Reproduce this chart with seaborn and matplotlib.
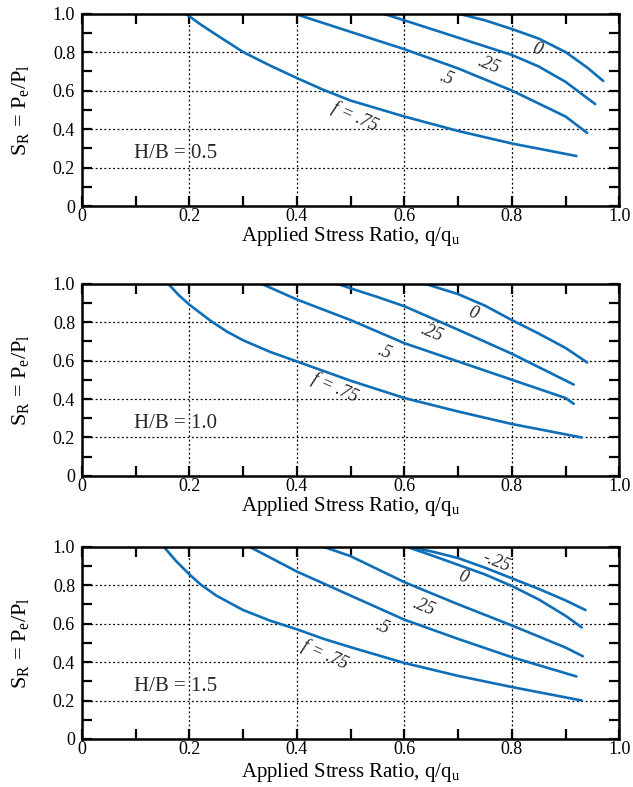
import matplotlib
matplotlib.use('Agg')
import pandas as pd
import seaborn as sns
import matplotlib.pyplot as plt
from matplotlib.ticker import FixedLocator, FixedFormatter, MultipleLocator

# valores
tick_values = [0, 0.2, 0.4, 0.6, 0.8, 1.0]
tick_labels = ['0', '0.2', '0.4', '0.6', '0.8', '1.0']
hb_labels = ['H/B = 0.5', 'H/B = 1.0', 'H/B = 1.5']

# H/B = 0.5
hb05_f075_q = [0.193, 0.22, 0.25, 0.3, 0.35, 0.4, 0.45, 0.5, 0.6, 0.7, 0.8, 0.92]
hb05_f075_s = [1.0, 0.945, 0.89, 0.80, 0.73, 0.665, 0.603, 0.548, 0.465, 0.39, 0.325, 0.26]
hb05_f05_q = [0.395, 0.5, 0.6, 0.7, 0.8, 0.9, 0.94]
hb05_f05_s = [1.0, 0.905, 0.815, 0.715, 0.60, 0.465, 0.38]
hb05_f025_q = [0.56, 0.6, 0.65, 0.7, 0.75, 0.8, 0.85, 0.9, 0.955]
hb05_f025_s = [1.0, 0.965, 0.92, 0.875, 0.83, 0.785, 0.725, 0.645, 0.53]
hb05_f0_q = [0.70, 0.75, 0.8, 0.85, 0.9, 0.94, 0.97]
hb05_f0_s = [1.0, 0.965, 0.92, 0.87, 0.80, 0.72, 0.65]

# H/B = 1.0
hb10_f075_q = [0.16, 0.18, 0.2, 0.24, 0.27, 0.3, 0.35, 0.4, 0.5, 0.6, 0.7, 0.8, 0.93]
hb10_f075_s = [1.0, 0.94, 0.89, 0.805, 0.75, 0.705, 0.645, 0.595, 0.495, 0.405, 0.335, 0.27, 0.20]
hb10_f05_q = [0.333, 0.4, 0.5, 0.6, 0.7, 0.8, 0.9, 0.915]
hb10_f05_s = [1.0, 0.917, 0.81, 0.69, 0.595, 0.5, 0.405, 0.375]
hb10_f025_q = [0.474, 0.5, 0.55, 0.6, 0.7, 0.8, 0.915]
hb10_f025_s = [1.0, 0.975, 0.93, 0.882, 0.76, 0.635, 0.475]
hb10_f0_q = [0.637, 0.7, 0.75, 0.8, 0.85, 0.9, 0.94]
hb10_f0_s = [1.0, 0.945, 0.885, 0.81, 0.74, 0.665, 0.59]

# H/B = 1.5
hb15_f075_q = [0.152, 0.175, 0.2, 0.22, 0.25, 0.3, 0.35, 0.4, 0.45, 0.5, 0.6, 0.7, 0.8, 0.93]
hb15_f075_s = [1.0, 0.925, 0.855, 0.805, 0.745, 0.67, 0.615, 0.57, 0.52, 0.477, 0.395, 0.328, 0.27, 0.20]
hb15_f05_q = [0.311, 0.4, 0.5, 0.6, 0.7, 0.8, 0.92]
hb15_f05_s = [1.0, 0.87, 0.745, 0.62, 0.52, 0.425, 0.325]
hb15_f025_q = [0.448, 0.5, 0.6, 0.7, 0.8, 0.9, 0.932]
hb15_f025_s = [1.0, 0.95, 0.815, 0.70, 0.59, 0.475, 0.43]
hb15_f0_q = [0.603, 0.65, 0.7, 0.75, 0.8, 0.85, 0.9, 0.93]
hb15_f0_s = [1.0, 0.955, 0.905, 0.855, 0.795, 0.725, 0.64, 0.58]
hb15_fm025_q = [0.603, 0.65, 0.7, 0.75, 0.8, 0.85, 0.9, 0.937]
hb15_fm025_s = [1.0, 0.975, 0.94, 0.89, 0.835, 0.78, 0.72, 0.67]

curvas = [
    [(hb05_f075_q, hb05_f075_s), (hb05_f05_q, hb05_f05_s), (hb05_f025_q, hb05_f025_s), (hb05_f0_q, hb05_f0_s)],
    [(hb10_f075_q, hb10_f075_s), (hb10_f05_q, hb10_f05_s), (hb10_f025_q, hb10_f025_s), (hb10_f0_q, hb10_f0_s)],
    [(hb15_f075_q, hb15_f075_s), (hb15_f05_q, hb15_f05_s), (hb15_f025_q, hb15_f025_s), (hb15_f0_q, hb15_f0_s),
     (hb15_fm025_q, hb15_fm025_s)],
]

# etiquetas de las curvas: texto, x, y, giro
etiquetas = [
    [('f = .75', 0.507, 0.465, -24), ('.5', 0.678, 0.665, -22), ('.25', 0.756, 0.735, -22), ('0', 0.846, 0.812, -20)],
    [('f = .75', 0.47, 0.46, -24), ('.5', 0.563, 0.645, -22), ('.25', 0.65, 0.745, -22), ('0', 0.727, 0.845, -20)],
    [('f = .75', 0.452, 0.44, -24), ('.5', 0.559, 0.58, -22), ('.25', 0.635, 0.687, -22), ('0', 0.71, 0.84, -20),
     ('-.25', 0.77, 0.918, -22)],
]

sns.set_theme(style='ticks')
plt.rcParams['font.family'] = ['Liberation Serif', 'DejaVu Serif']
plt.rcParams['mathtext.fontset'] = 'custom'
plt.rcParams['mathtext.rm'] = 'Liberation Serif'
plt.rcParams['mathtext.it'] = 'Liberation Serif:italic'

azul = '#0e6fb8'
fig = plt.figure(figsize=(6.33, 7.87), dpi=100)
fondos = [0.7382, 0.3952, 0.061]
xlab_y = [-0.1, -0.1, -0.115]

for i in range(3):
    ax = fig.add_axes([0.1295, fondos[i], 0.849, 0.2445])
    for q, s in curvas[i]:
        sns.lineplot(x=q, y=s, ax=ax, color=azul, linewidth=1.9, sort=False, estimator=None)
    for txt, lx, ly, rot in etiquetas[i]:
        ax.text(lx, ly, txt, fontsize=13, fontstyle='italic', rotation=rot,
                ha='center', va='center', rotation_mode='anchor')
    ax.text(0.096, 0.275, hb_labels[i], fontsize=15, ha='left', va='center')

    ax.set_xlim(0, 1)
    ax.set_ylim(0, 1)
    ax.xaxis.set_major_locator(FixedLocator(tick_values))
    ax.xaxis.set_major_formatter(FixedFormatter(tick_labels))
    ax.yaxis.set_major_locator(FixedLocator(tick_values))
    ax.yaxis.set_major_formatter(FixedFormatter(tick_labels))
    ax.xaxis.set_minor_locator(MultipleLocator(0.1))
    ax.yaxis.set_minor_locator(MultipleLocator(0.1))
    ax.tick_params(which='both', direction='in', top=True, right=True,
                   length=7, width=1.6, color='black', labelsize=13, labelcolor='black')
    ax.tick_params(axis='x', pad=1.5)
    ax.tick_params(axis='y', pad=5)
    ax.grid(True, which='major', color='black', linestyle=(0, (1.5, 2)), linewidth=0.9)
    for sp in ax.spines.values():
        sp.set_linewidth(1.8)
        sp.set_color('black')

    ax.set_xlabel(r'Applied Stress Ratio, q/q$_\mathrm{u}$', fontsize=15, color='black')
    ax.set_ylabel(r'S$_\mathrm{R}$ = P$_\mathrm{e}$/P$_\mathrm{l}$', fontsize=16, color='black')
    ax.xaxis.set_label_coords(0.5, xlab_y[i])
    ax.yaxis.set_label_coords(-0.095, 0.5)

fig.savefig('out.png', dpi=100)
